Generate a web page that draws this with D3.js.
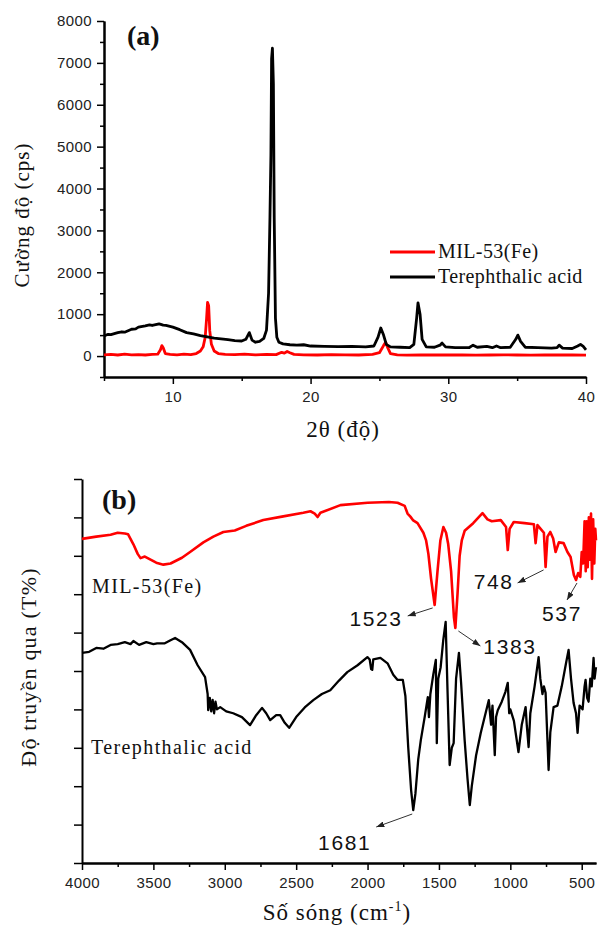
<!DOCTYPE html>
<html>
<head>
<meta charset="utf-8">
<script src="https://cdn.jsdelivr.net/npm/d3@7"></script>
<style>
  body { margin: 0; background: #fff; }
  svg { display: block; }
  .tick text { font-family: "Liberation Sans", Arial, sans-serif; fill: #222; }
  .serif { font-family: "Liberation Serif", "Times New Roman", serif; fill: #111; }
  .num { font-family: "Liberation Sans", Arial, sans-serif; fill: #111; }
</style>
</head>
<body>
<svg id="chart" width="598" height="931"></svg>
<script>
// ---- panel (a): XRD, [2theta, intensity cps] ----
const xrdMil53 = [
  [5,30],[5.5,40],[6,25],[6.5,45],[7,30],[7.5,35],[8,25],[8.5,40],[8.9,45],[9.1,150],[9.2,250],[9.3,200],
  [9.45,60],[9.8,40],[10.3,30],[10.8,45],[11.3,35],[11.7,60],[12.0,120],[12.2,220],[12.35,450],[12.45,900],
  [12.52,1280],[12.6,1200],[12.68,600],[12.8,280],[13.0,120],[13.3,60],[13.8,40],[14.5,35],[15.2,45],[16,30],
  [16.8,40],[17.5,35],[17.9,90],[18.1,70],[18.3,110],[18.5,80],[18.8,40],[19.5,30],[20.5,25],[21.5,35],
  [22.5,30],[23.5,25],[24.5,40],[25.0,80],[25.3,250],[25.45,330],[25.6,200],[25.8,60],[26.3,30],[27,20],
  [28,25],[29,30],[30,25],[31,30],[32,20],[33,25],[34,30],[35,25],[36,20],[37,25],[38,30],[39,25],[40,20]
];
const xrdAcid = [
  [5,480],[5.3,520],[5.5,510],[6,560],[6.3,580],[6.5,570],[7,640],[7.3,650],[7.5,690],[8,720],[8.3,745],
  [8.5,730],[9,770],[9.3,740],[9.5,730],[10,690],[10.5,630],[11,560],[11.5,530],[12,490],[12.5,460],
  [13,430],[13.5,410],[14,390],[14.5,370],[15,360],[15.3,400],[15.55,560],[15.75,380],[16,330],[16.3,350],
  [16.6,420],[16.8,620],[16.95,1500],[17.05,3300],[17.12,4800],[17.17,7100],[17.23,7350],[17.3,6500],
  [17.36,3300],[17.45,900],[17.55,450],[17.7,330],[18,290],[18.5,270],[19,260],[19.5,270],[20,240],
  [21,230],[22,225],[23,230],[24,220],[24.6,240],[24.9,450],[25.1,670],[25.3,500],[25.5,280],[25.8,220],
  [26.5,210],[27.2,200],[27.5,280],[27.7,900],[27.8,1270],[27.95,1000],[28.1,400],[28.4,220],[29,210],
  [29.4,260],[29.55,310],[29.8,220],[30.5,200],[31.5,200],[31.8,260],[32.1,210],[32.8,230],[33.2,200],
  [33.5,240],[33.8,200],[34.5,210],[34.9,400],[35.05,500],[35.25,350],[35.6,210],[36.5,200],[37.5,190],
  [37.9,200],[38.05,260],[38.3,190],[39,180],[39.4,240],[39.6,280],[39.8,230],[40,150]
];
const xrdLegend = ["MIL-53(Fe)", "Terephthalic acid"];
const xrdYTicks = [0, 1000, 2000, 3000, 4000, 5000, 6000, 7000, 8000];
const xrdYMinor = [-500, 500, 1500, 2500, 3500, 4500, 5500, 6500, 7500];
const xrdXTicks = [10, 20, 30, 40];
const xrdXMinor = [5, 15, 25, 35];

// ---- panel (b): FTIR, [wavenumber cm-1, transmittance (arb.)] ----
const irMil53 = [
  [4000,8.44],[3900,8.5],[3800,8.55],[3750,8.6],[3700,8.58],[3677,8.56],[3640,8.3],[3610,8.05],[3590,7.94],
  [3560,7.98],[3530,7.92],[3480,7.82],[3430,7.77],[3380,7.8],[3300,7.95],[3243,8.1],[3150,8.35],[3080,8.5],
  [3010,8.62],[2930,8.66],[2850,8.78],[2730,8.93],[2600,9.02],[2450,9.12],[2400,9.16],[2370,9.1],[2350,9.01],
  [2330,9.12],[2190,9.32],[2000,9.38],[1850,9.4],[1790,9.38],[1740,9.3],[1720,9.1],[1700,9.02],[1680,8.92],
  [1650,8.85],[1609,8.6],[1590,8.4],[1574,8.05],[1555,7.4],[1530,6.72],[1510,7.6],[1490,8.4],[1469,8.75],
  [1450,8.6],[1435,8.3],[1415,7.6],[1395,6.4],[1385,6.12],[1370,7.0],[1355,8.0],[1340,8.4],[1320,8.65],
  [1260,8.85],[1195,9.11],[1160,8.95],[1130,8.9],[1067,8.93],[1030,8.75],[1018,8.15],[1005,8.7],[976,8.88],
  [900,8.85],[835,8.82],[823,8.33],[810,8.8],[788,8.7],[765,8.6],[753,7.71],[740,8.5],[720,8.62],[700,8.45],
  [683,8.1],[660,8.35],[627,8.33],[600,8.1],[578,7.97],[555,7.5],[540,7.37],[525,7.55],[510,7.45],[500,8.1],
  [490,7.8],[480,8.9],[472,7.6],[465,8.9],[458,7.7],[450,9.0],[442,7.9],[435,9.1],[428,7.4],[420,8.95],
  [412,7.8],[405,8.7],[400,8.4]
];
const irAcid = [
  [4000,5.47],[3950,5.5],[3900,5.6],[3850,5.58],[3800,5.68],[3750,5.7],[3700,5.75],[3660,5.7],[3640,5.78],
  [3600,5.68],[3550,5.75],[3500,5.7],[3474,5.72],[3420,5.72],[3380,5.8],[3348,5.86],[3300,5.75],[3243,5.55],
  [3190,5.15],[3138,4.84],[3120,4.4],[3116,3.98],[3105,4.3],[3095,3.95],[3085,4.25],[3075,3.9],[3065,4.2],
  [3055,4.0],[3032,4.06],[2990,3.95],[2941,3.9],[2880,3.8],[2823,3.59],[2780,3.85],[2739,4.04],[2710,3.9],
  [2682,3.72],[2640,3.85],[2612,3.85],[2580,3.65],[2549,3.52],[2500,3.8],[2440,4.05],[2380,4.24],[2320,4.4],
  [2261,4.5],[2200,4.75],[2142,4.97],[2070,5.15],[2001,5.36],[1985,5.3],[1975,5.05],[1967,5.03],[1960,5.3],
  [1910,5.34],[1860,5.2],[1820,4.9],[1791,4.77],[1753,4.77],[1735,4.35],[1715,3.0],[1695,1.9],[1680,1.38],
  [1665,1.8],[1645,2.7],[1627,3.2],[1600,3.8],[1578,4.32],[1570,3.8],[1560,4.4],[1540,4.9],[1522,5.29],
  [1515,3.12],[1505,4.8],[1488,5.1],[1470,5.8],[1453,6.28],[1440,4.5],[1425,2.55],[1410,3.0],[1397,3.12],
  [1380,4.8],[1360,5.47],[1345,4.7],[1320,3.2],[1300,2.2],[1284,1.51],[1270,2.0],[1240,2.8],[1207,3.39],
  [1180,3.8],[1151,4.24],[1135,3.6],[1125,4.1],[1109,2.81],[1100,3.8],[1088,3.98],[1060,4.2],[1035,4.45],
  [1018,4.69],[1008,3.9],[1000,4.0],[975,3.7],[943,2.89],[920,3.6],[893,4.06],[885,3.6],[872,3.02],[860,3.9],
  [830,4.6],[802,5.36],[790,4.8],[775,4.4],[765,4.6],[753,4.43],[740,3.2],[732,2.42],[720,3.4],[697,4.06],
  [670,4.1],[640,4.6],[610,5.2],[592,5.55],[575,4.8],[557,4.17],[540,3.9],[529,3.39],[515,4.1],[494,4.0],
  [480,4.6],[473,4.77],[462,4.3],[452,4.2],[440,4.8],[430,4.6],[417,5.34],[410,4.8],[400,5.1]
];
const irSeriesNames = ["MIL-53(Fe)", "Terephthalic acid"];
const irXTicks = [4000, 3500, 3000, 2500, 2000, 1500, 1000, 500];
const irXMinor = [3750, 3250, 2750, 2250, 1750, 1250, 750];
const irYTicks = d3.range(0, 11);
// peak labels: wavenumber and value at the marked dip
const peakLabels = ["1523", "1383", "748", "537", "1681"];
const peakWn = [1530, 1385, 753, 540, 1680];
const peakVal = [6.72, 6.12, 7.71, 7.37, 1.38];

const svg = d3.select("#chart");

svg.append("defs").append("marker")
    .attr("id", "arrow")
    .attr("viewBox", "0 0 8 6")
    .attr("refX", 8).attr("refY", 3)
    .attr("markerWidth", 8).attr("markerHeight", 6)
    .attr("markerUnits", "userSpaceOnUse")
    .attr("orient", "auto")
    .append("path")
    .attr("d", "M0,0L8,3L0,6Z")
    .attr("fill", "#222");

function styleAxis(g) {
    g.select(".domain").attr("stroke", "#000").attr("stroke-width", 2);
    g.selectAll(".tick line").attr("stroke", "#000").attr("stroke-width", 1.5);
}

// ================= (a) =================
const xA = d3.scaleLinear().domain([5, 40]).range([104, 586]),
    yA = d3.scaleLinear().domain([-500, 8000]).range([377, 21]);
const gA = svg.append("g");

gA.append("g")
    .attr("transform", "translate(104,0)")
    .call(d3.axisLeft(yA).tickValues(xrdYMinor).tickSize(4).tickSizeOuter(0).tickFormat(""))
    .call(styleAxis);
gA.append("g")
    .attr("transform", "translate(104,0)")
    .call(d3.axisLeft(yA).tickValues(xrdYTicks).tickSize(7).tickPadding(5).tickSizeOuter(0).tickFormat(d3.format("d")))
    .call(styleAxis)
    .selectAll(".tick text").attr("font-size", 15).attr("letter-spacing", 0.4);
gA.append("g")
    .attr("transform", "translate(0,377)")
    .call(d3.axisBottom(xA).tickValues(xrdXMinor).tickSize(4).tickSizeOuter(0).tickFormat(""))
    .call(styleAxis);
gA.append("g")
    .attr("transform", "translate(0,377)")
    .call(d3.axisBottom(xA).tickValues(xrdXTicks).tickSize(7).tickPadding(7).tickSizeOuter(0))
    .call(styleAxis)
    .selectAll(".tick text").attr("font-size", 15).attr("letter-spacing", 0.4);

const lineA = d3.line().x(d => xA(d[0])).y(d => yA(d[1]));
gA.append("path").datum(xrdMil53)
    .attr("d", lineA).attr("fill", "none")
    .attr("stroke", "#ff0000").attr("stroke-width", 2.8).attr("stroke-linejoin", "round");
gA.append("path").datum(xrdAcid)
    .attr("d", lineA).attr("fill", "none")
    .attr("stroke", "#000").attr("stroke-width", 2.8).attr("stroke-linejoin", "round");

// legend
const legA = gA.append("g").selectAll("g")
    .data(xrdLegend)
    .enter().append("g")
    .attr("transform", (d, i) => `translate(390,${252 + i * 25})`);
legA.append("line")
    .attr("x1", 0).attr("x2", 45)
    .attr("stroke", (d, i) => i === 0 ? "#ff0000" : "#000")
    .attr("stroke-width", 2.8);
legA.append("text")
    .attr("class", "serif")
    .attr("x", 48).attr("y", 6)
    .attr("font-size", 20).attr("letter-spacing", 0.4)
    .text(d => d);

gA.append("text").attr("class", "serif")
    .attr("x", 127).attr("y", 45)
    .attr("font-size", 28).attr("font-weight", "bold")
    .text("(a)");
gA.append("text").attr("class", "serif")
    .attr("transform", "translate(29,215) rotate(-90)")
    .attr("text-anchor", "middle")
    .attr("font-size", 21).attr("letter-spacing", 1)
    .text("Cường độ (cps)");
gA.append("text").attr("class", "serif")
    .attr("x", 343).attr("y", 437)
    .attr("text-anchor", "middle")
    .attr("font-size", 23).attr("letter-spacing", 1)
    .text("2θ (độ)");

// ================= (b) =================
const xB = d3.scaleLinear().domain([4000, 400]).range([82, 596]),
    yB = d3.scaleLinear().domain([0, 10]).range([863, 479]);
const gB = svg.append("g");

gB.append("g")
    .attr("transform", "translate(82,0)")
    .call(d3.axisLeft(yB).tickValues(irYTicks).tickSize(8).tickSizeOuter(0).tickFormat(""))
    .call(styleAxis);
gB.append("g")
    .attr("transform", "translate(0,863)")
    .call(d3.axisBottom(xB).tickValues(irXMinor).tickSize(4).tickSizeOuter(0).tickFormat(""))
    .call(styleAxis);
gB.append("g")
    .attr("transform", "translate(0,863)")
    .call(d3.axisBottom(xB).tickValues(irXTicks).tickSize(7).tickPadding(7).tickSizeOuter(0).tickFormat(d3.format("d")))
    .call(styleAxis)
    .selectAll(".tick text").attr("font-size", 15).attr("letter-spacing", 0.4);

const lineB = d3.line().x(d => xB(d[0])).y(d => yB(d[1]));
gB.append("path").datum(irMil53)
    .attr("d", lineB).attr("fill", "none")
    .attr("stroke", "#ff0000").attr("stroke-width", 2.6).attr("stroke-linejoin", "round");
gB.append("path").datum(irAcid)
    .attr("d", lineB).attr("fill", "none")
    .attr("stroke", "#000").attr("stroke-width", 2.3).attr("stroke-linejoin", "round");

// series names next to the curves
gB.append("text").attr("class", "serif")
    .attr("x", 92).attr("y", 593)
    .attr("font-size", 20).attr("letter-spacing", 1.4)
    .text(irSeriesNames[0]);
gB.append("text").attr("class", "serif")
    .attr("x", 91).attr("y", 754)
    .attr("font-size", 20).attr("letter-spacing", 1.4)
    .text(irSeriesNames[1]);

// peak arrows: tail offset from the dip, arrow vector, text anchor/offset
const arrowStyle = [
    { t: [-2, 3], v: [-25, 8], anchor: "end", tx: -5, ty: 10 },
    { t: [3, 3], v: [22, 15], anchor: "start", tx: 3, ty: 8 },
    { t: [-2, 3], v: [-26, 13], anchor: "end", tx: -4, ty: 6 },
    { t: [1, 3], v: [-10, 17], anchor: "middle", tx: -5, ty: 21 },
    { t: [-1, 4], v: [-36, 13], anchor: "end", tx: -5, ty: 23 }
];
const peaks = gB.append("g").selectAll("g")
    .data(peakLabels)
    .enter().append("g");
peaks.each(function (d, i) {
    const s = arrowStyle[i],
        x0 = xB(peakWn[i]) + s.t[0],
        y0 = yB(peakVal[i]) + s.t[1],
        x1 = x0 + s.v[0],
        y1 = y0 + s.v[1];
    const g = d3.select(this);
    g.append("line")
        .attr("x1", x0).attr("y1", y0).attr("x2", x1).attr("y2", y1)
        .attr("stroke", "#333").attr("stroke-width", 1)
        .attr("marker-end", "url(#arrow)");
    g.append("text").attr("class", "num")
        .attr("x", x1 + s.tx).attr("y", y1 + s.ty)
        .attr("text-anchor", s.anchor)
        .attr("font-size", 21).attr("letter-spacing", 1.6)
        .text(d);
});

gB.append("text").attr("class", "serif")
    .attr("x", 102).attr("y", 509)
    .attr("font-size", 28).attr("font-weight", "bold")
    .text("(b)");
gB.append("text").attr("class", "serif")
    .attr("transform", "translate(36,667) rotate(-90)")
    .attr("text-anchor", "middle")
    .attr("font-size", 22).attr("letter-spacing", 1.2)
    .text("Độ truyền qua (T%)");
const xlabB = gB.append("text").attr("class", "serif")
    .attr("x", 337).attr("y", 920)
    .attr("text-anchor", "middle")
    .attr("font-size", 23).attr("letter-spacing", 1);
xlabB.append("tspan").text("Số sóng (cm");
xlabB.append("tspan").attr("dy", -9).attr("font-size", 14).text("-1");
xlabB.append("tspan").attr("dy", 9).text(")");
</script>
</body>
</html>
